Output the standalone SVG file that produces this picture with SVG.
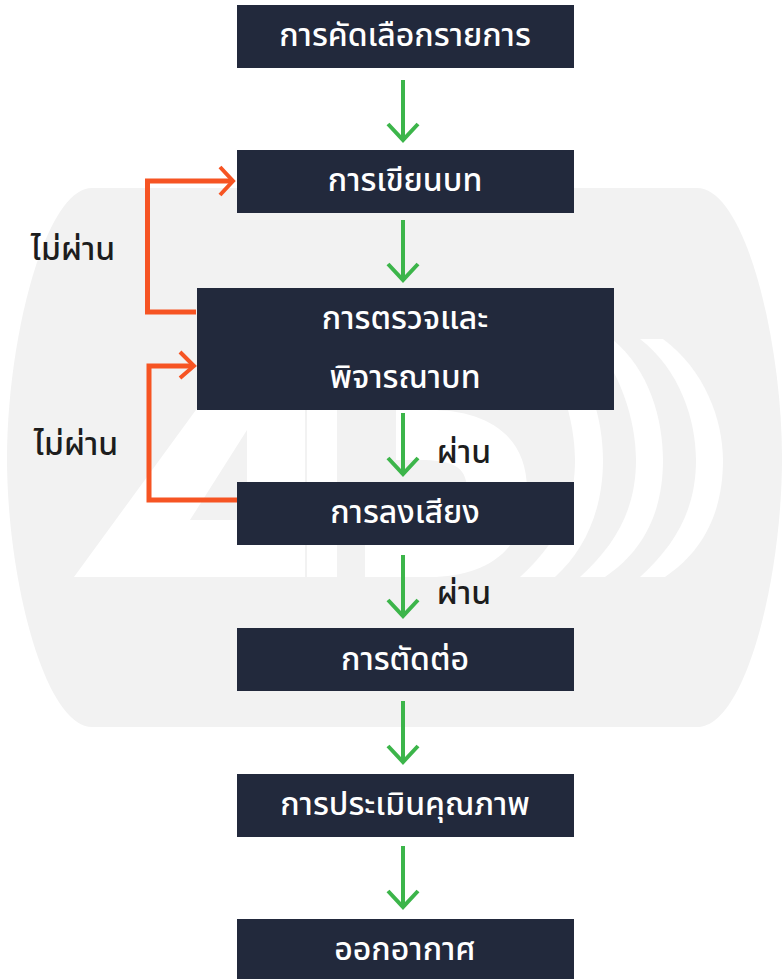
<svg xmlns="http://www.w3.org/2000/svg" width="782" height="979" viewBox="0 0 782 979">
<style>
.n{fill:#22293c}
.t{font-family:"Noto Sans","Noto Sans Thai","Liberation Sans",sans-serif;font-size:32px;font-weight:500;fill:#fff;text-anchor:middle}
.l{font-family:"Noto Sans","Noto Sans Thai","Liberation Sans",sans-serif;font-size:32px;font-weight:500;fill:#1d1d1d;text-anchor:middle}
.g{fill:none;stroke:#3cb54a;stroke-width:4}
.o{fill:none;stroke:#f65423;stroke-width:5}
.oh{fill:none;stroke:#f65423;stroke-width:4}
</style>
<rect width="782" height="979" fill="#fff"/>
<g id="watermark">
<path d="M92 188H697C745 188 782 340 782 458C782 580 745 727 697 727H92C45 727 7 580 7 458C7 340 45 188 92 188Z" fill="#f2f2f2"/>
<path d="M74 577L247 340H305V577H247V430L190 520H247V577H146Z" fill="#fff"/>
<rect x="307" y="340" width="30" height="237" fill="#fff"/>
<path d="M365 410H430C480 410 527 430 527 490C527 555 480 577 430 577H365V525H420C450 525 467 515 467 490C467 465 450 460 420 460H396V410Z" fill="#fff"/>
<path d="M520 577C555 545 575 510 575 460C575 420 560 370 530 339H555C590 370 603 420 603 460C603 510 585 550 555 577Z" fill="#fff"/>
<path d="M580 577C615 545 636 510 636 460C636 420 620 370 590 339H612C650 370 663 420 663 460C663 510 645 550 605 577Z" fill="#fff"/>
<path d="M640 577C675 545 696 510 696 460C696 420 680 370 640 339H663C705 370 723 420 723 460C723 510 705 550 665 577Z" fill="#fff"/>
</g>
<g id="connectors">
<path class="g" d="M403 80V140M388 124L403 140L418 124"/>
<path class="g" d="M403 220V280M388 264L403 280L418 264"/>
<path class="g" d="M403 413V474M388 458L403 474L418 458"/>
<path class="g" d="M403 555V616M388 600L403 616L418 600"/>
<path class="g" d="M403 701V762M388 746L403 762L418 746"/>
<path class="g" d="M403 846V907M388 891L403 907L418 891"/>
<path class="o" d="M196 312H147.500V181H232"/>
<path class="oh" d="M220 167L233 181L220 195"/>
<path class="o" d="M237 500H149V366H193"/>
<path class="oh" d="M180 352L194 366L180 378"/>
</g>
<g id="n1"><rect class="n" x="237" y="5" width="337" height="63"/><text class="t" x="405" y="46">การคัดเลือกรายการ</text></g>
<g id="n2"><rect class="n" x="237" y="150" width="337" height="63"/><text class="t" x="405" y="191">การเขียนบท</text></g>
<g id="n3"><rect class="n" x="197" y="288" width="417" height="122"/><text class="t" x="405" y="329">การตรวจและ</text><text class="t" x="405" y="388">พิจารณาบท</text></g>
<g id="n4"><rect class="n" x="237" y="482" width="337" height="63"/><text class="t" x="405" y="523">การลงเสียง</text></g>
<g id="n5"><rect class="n" x="237" y="628" width="337" height="63"/><text class="t" x="405" y="670">การตัดต่อ</text></g>
<g id="n6"><rect class="n" x="237" y="774" width="337" height="63"/><text class="t" x="405" y="815">การประเมินคุณภาพ</text></g>
<g id="n7"><rect class="n" x="237" y="919" width="337" height="60"/><text class="t" x="405" y="960">ออกอากาศ</text></g>
<g id="labels">
<text class="l" x="73" y="260">ไม่ผ่าน</text>
<text class="l" x="76" y="455">ไม่ผ่าน</text>
<text class="l" x="464" y="463">ผ่าน</text>
<text class="l" x="464" y="604">ผ่าน</text>
</g>
</svg>
